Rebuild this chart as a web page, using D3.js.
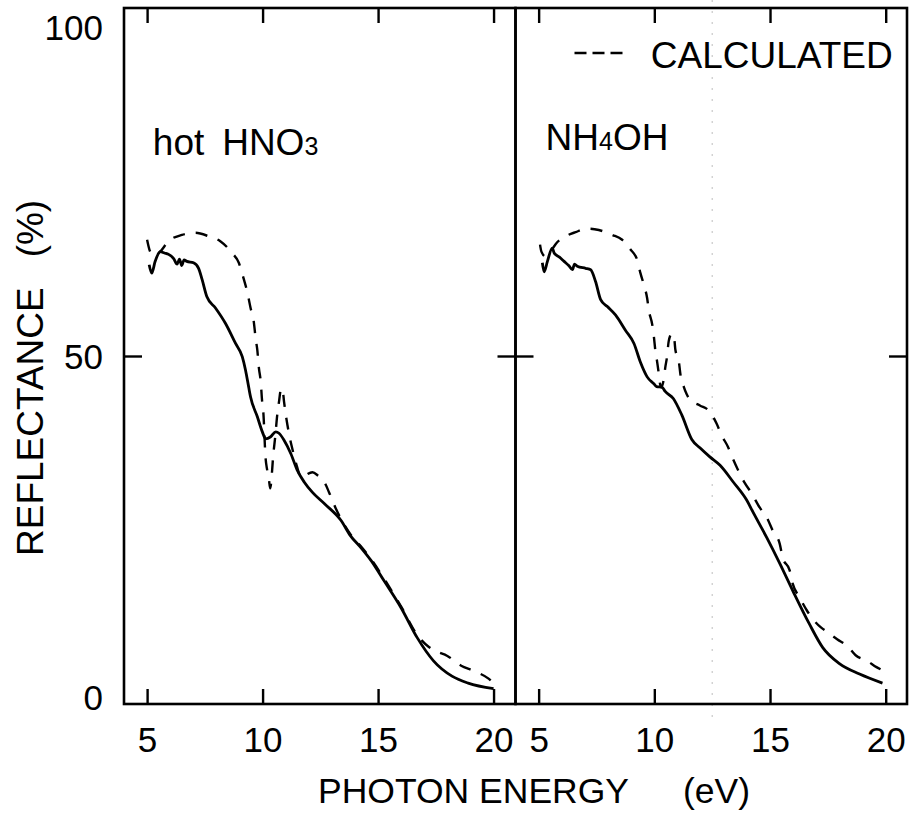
<!DOCTYPE html>
<html>
<head>
<meta charset="utf-8">
<script src="https://cdn.jsdelivr.net/npm/d3@7"></script>
<style>
  html, body { margin: 0; padding: 0; background: #fff; }
  svg { display: block; }
  text { font-family: "Liberation Sans", Arial, Helvetica, sans-serif; fill: #000; }
</style>
</head>
<body>
<svg id="chart" width="910" height="817"></svg>
<script>
// ---------- data ----------
const xTicks = [5, 10, 15, 20];
const yTicks = [0, 50, 100];
const yMajor = [50];

// Left panel: hot HNO3 — measured
const hnoMeasE = [5.09, 5.2, 5.35, 5.57, 5.75, 5.93, 6.15, 6.3, 6.4, 6.5, 6.6, 6.72, 7.01, 7.23, 7.38, 7.59, 7.96, 8.39, 8.83, 9.12, 9.26, 9.4, 9.48, 9.77, 9.99, 10.13, 10.35, 10.57, 10.71, 10.93, 11.22, 11.5, 11.8, 12.16, 12.67, 13.39, 13.8, 14.3, 14.7, 15.26, 16.0, 16.7, 17.4, 18.2, 18.9, 20.0];
const hnoMeasR = [63.1, 61.9, 63.6, 65.0, 64.8, 64.6, 64.0, 63.2, 63.9, 63.0, 63.8, 63.6, 63.4, 62.6, 61.0, 58.5, 56.9, 54.7, 51.8, 49.9, 48.0, 45.5, 44.1, 41.3, 39.1, 38.1, 38.4, 39.1, 38.9, 37.9, 36.0, 33.6, 31.9, 30.4, 28.8, 26.4, 24.2, 22.3, 20.6, 17.7, 13.8, 9.5, 6.2, 4.0, 3.0, 2.2];

// Left panel: hot HNO3 — calculated
const hnoCalcE = [5.0, 5.1, 5.3, 5.57, 5.93, 6.51, 7.09, 7.67, 8.17, 8.68, 8.97, 9.19, 9.33, 9.48, 9.62, 9.70, 9.77, 9.84, 9.92, 9.98, 10.03, 10.13, 10.2, 10.27, 10.33, 10.4, 10.45, 10.55, 10.64, 10.71, 10.8, 10.86, 10.93, 11.04, 11.14, 11.3, 11.5, 11.65, 12.16, 12.4, 12.67, 12.88, 13.17, 13.39, 13.8, 14.3, 14.7, 15.26, 16.0, 16.7, 17.2, 17.5, 18.0, 18.6, 19.1, 19.8, 20.0];
const hnoCalcR = [66.7, 65.3, 64.3, 65.0, 66.5, 67.4, 67.7, 67.2, 66.5, 64.8, 63.4, 61.0, 59.3, 56.9, 54.9, 52.5, 50.9, 48.3, 46.3, 43.5, 42.0, 35.3, 33.6, 32.4, 31.0, 33.0, 35.3, 38.5, 41.7, 43.4, 45.3, 45.3, 43.4, 40.8, 38.9, 36.5, 34.0, 32.6, 33.3, 32.8, 31.9, 30.4, 28.1, 26.6, 24.4, 22.5, 20.8, 18.0, 14.0, 9.9, 8.2, 7.6, 6.9, 5.5, 4.8, 3.6, 3.0];

// Right panel: NH4OH — measured
const nhMeasE = [5.16, 5.24, 5.38, 5.59, 5.67, 5.9, 6.1, 6.3, 6.46, 6.55, 6.67, 7.03, 7.25, 7.46, 7.68, 7.97, 8.32, 8.75, 9.12, 9.4, 9.69, 9.98, 10.1, 10.34, 10.47, 10.82, 11.19, 11.62, 11.97, 12.4, 12.84, 13.41, 13.99, 14.26, 14.86, 15.42, 15.98, 16.7, 17.28, 18.0, 18.87, 19.86];
const nhMeasR = [63.4, 62.1, 63.6, 65.5, 64.8, 64.2, 63.6, 63.0, 62.4, 63.2, 62.9, 62.6, 62.4, 60.7, 58.1, 57.1, 55.9, 53.7, 51.8, 49.1, 47.0, 46.0, 45.6, 45.5, 44.9, 43.9, 41.5, 38.0, 36.8, 35.5, 34.3, 31.9, 29.3, 27.6, 23.9, 20.2, 16.3, 11.5, 8.1, 5.8, 4.3, 3.0];

// Right panel: NH4OH — calculated
const nhCalcE = [5.06, 5.12, 5.3, 5.52, 5.74, 6.17, 6.6, 7.1, 7.6, 8.18, 8.61, 8.97, 9.26, 9.4, 9.55, 9.69, 9.76, 9.91, 9.98, 10.05, 10.12, 10.19, 10.24, 10.3, 10.4, 10.48, 10.55, 10.62, 10.75, 10.84, 10.91, 11.06, 11.13, 11.27, 11.4, 11.54, 11.97, 12.4, 12.69, 12.91, 13.19, 13.4, 13.65, 13.9, 14.2, 14.56, 14.86, 15.12, 15.42, 15.55, 15.85, 15.98, 16.28, 16.6, 16.9, 17.2, 17.5, 17.9, 18.35, 18.7, 19.2, 19.6, 19.9];
const nhCalcR = [66.0, 65.0, 64.3, 65.0, 66.1, 67.2, 67.8, 68.3, 68.1, 67.4, 66.7, 65.3, 63.8, 61.9, 60.2, 58.3, 56.6, 54.5, 52.8, 50.6, 49.2, 47.5, 46.1, 45.5, 46.5, 48.5, 49.9, 52.1, 53.2, 53.0, 50.9, 49.2, 47.3, 45.6, 44.5, 43.7, 42.9, 42.0, 40.3, 38.6, 36.9, 35.2, 33.4, 31.8, 30.3, 28.2, 26.8, 24.9, 23.0, 21.0, 19.2, 17.3, 15.3, 13.4, 12.0, 11.0, 10.3, 9.3, 8.3, 7.0, 6.2, 5.3, 4.8];

// ---------- layout ----------
const plotTop = 8, plotBottom = 704;
const leftX0 = 124, midX = 515.5, rightX1 = 907;

const svg = d3.select("#chart");

const y = d3.scaleLinear().domain([0, 100]).range([plotBottom, plotTop]);
const xL = d3.scaleLinear().domain([4, 20.95]).range([leftX0, midX]);
const xR = d3.scaleLinear().domain([4, 20.92]).range([midX, rightX1]);

const zip = (a, b) => a.map((v, i) => [v, b[i]]);

function drawPanel(x, meas, calc) {
  const [x0, x1] = x.range();
  const g = svg.append("g");

  g.append("rect")
    .attr("x", x0).attr("y", plotTop)
    .attr("width", x1 - x0).attr("height", plotBottom - plotTop)
    .attr("fill", "none").attr("stroke", "#000").attr("stroke-width", 2.6);

  g.append("g").attr("transform", `translate(0,${plotBottom})`)
    .call(d3.axisTop(x).tickValues(xTicks).tickSize(15).tickFormat(""))
    .call(s => s.select(".domain").remove())
    .call(s => s.selectAll("line").attr("stroke-width", 2.4));

  g.append("g").attr("transform", `translate(0,${plotTop})`)
    .call(d3.axisBottom(x).tickValues(xTicks).tickSize(15).tickFormat(""))
    .call(s => s.select(".domain").remove())
    .call(s => s.selectAll("line").attr("stroke-width", 2.4));

  g.append("g").attr("transform", `translate(${x0},0)`)
    .call(d3.axisRight(y).tickValues(yMajor).tickSize(18).tickFormat(""))
    .call(s => s.select(".domain").remove())
    .call(s => s.selectAll("line").attr("stroke-width", 2.4));
  g.append("g").attr("transform", `translate(${x1},0)`)
    .call(d3.axisLeft(y).tickValues(yMajor).tickSize(18).tickFormat(""))
    .call(s => s.select(".domain").remove())
    .call(s => s.selectAll("line").attr("stroke-width", 2.4));

  g.append("g").attr("transform", `translate(0,${plotBottom})`)
    .call(d3.axisBottom(x).tickValues(xTicks).tickSize(0).tickPadding(23))
    .call(s => s.select(".domain").remove())
    .call(s => s.selectAll("text")
      .attr("font-size", 35)
      .attr("font-family", '"Liberation Sans", Arial, sans-serif')
      .attr("fill", "#000"));

  const line = d3.line().x(d => x(d[0])).y(d => y(d[1])).curve(d3.curveMonotoneX);

  g.append("path").datum(calc)
    .attr("d", line).attr("fill", "none").attr("stroke", "#000")
    .attr("stroke-width", 2.4).attr("stroke-dasharray", "12,11");

  g.append("path").datum(meas)
    .attr("d", line).attr("fill", "none").attr("stroke", "#000")
    .attr("stroke-width", 2.8).attr("stroke-linejoin", "round");
  return g;
}

svg.append("line")
  .attr("x1", xR(12.5)).attr("x2", xR(12.5))
  .attr("y1", 0).attr("y2", plotBottom + 22)
  .attr("stroke", "#bdbdbd").attr("stroke-width", 1).attr("stroke-dasharray", "2,9");

drawPanel(xL, zip(hnoMeasE, hnoMeasR), zip(hnoCalcE, hnoCalcR));
drawPanel(xR, zip(nhMeasE, nhMeasR), zip(nhCalcE, nhCalcR));

svg.append("g").attr("transform", `translate(${leftX0},0)`)
  .call(d3.axisLeft(y).tickValues(yTicks).tickSize(0).tickPadding(21))
  .call(s => s.select(".domain").remove())
  .call(s => s.selectAll("text")
    .attr("font-size", 35)
    .attr("font-family", '"Liberation Sans", Arial, sans-serif')
    .attr("fill", "#000")
    .attr("dy", d => d === 100 ? "0.9em" : (d === 0 ? "0.15em" : "0.36em")));

// panel labels
const lab1 = svg.append("text").attr("y", 155).attr("font-size", 37);
lab1.append("tspan").attr("x", xL(5.25)).text("hot");
lab1.append("tspan").attr("x", xL(8.25)).text("HNO");
lab1.append("tspan").attr("font-size", 25).text("3");

const lab2 = svg.append("text").attr("x", xR(5.3)).attr("y", 150).attr("font-size", 37);
lab2.append("tspan").text("NH");
lab2.append("tspan").attr("font-size", 25).text("4");
lab2.append("tspan").text("OH");

// legend
svg.append("line")
  .attr("x1", xR(6.55)).attr("x2", xR(8.75))
  .attr("y1", 53).attr("y2", 53)
  .attr("stroke", "#000").attr("stroke-width", 2.3).attr("stroke-dasharray", "12,6");
svg.append("text").attr("x", xR(9.85)).attr("y", 68).attr("font-size", 37).text("CALCULATED");

// axis titles
const xt = svg.append("text").attr("y", 803).attr("font-size", 35.5);
xt.append("tspan").attr("x", 318).text("PHOTON ENERGY");
xt.append("tspan").attr("x", 683).text("(eV)");

const yt = svg.append("text")
  .attr("transform", `translate(43,556) rotate(-90)`)
  .attr("font-size", 37);
yt.append("tspan").text("REFLECTANCE");
yt.append("tspan").attr("dx", 30).text("(%)");
</script>
</body>
</html>
